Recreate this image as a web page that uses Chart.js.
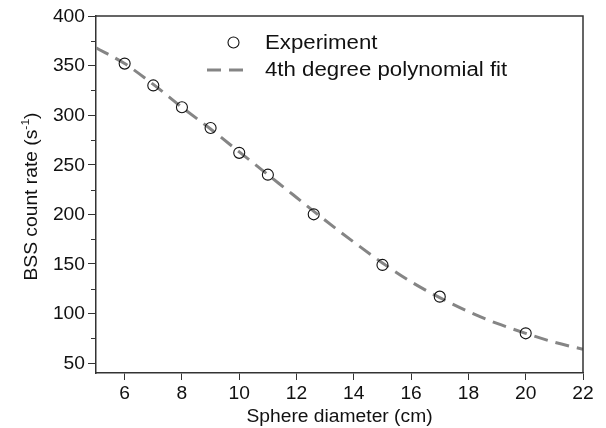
<!DOCTYPE html>
<html>
<head>
<meta charset="utf-8">
<script src="https://cdn.jsdelivr.net/npm/chart.js@4"></script>
<style>
  html, body { margin: 0; padding: 0; background: #fff; }
</style>
</head>
<body>
<canvas id="chart" width="606" height="428"></canvas>
<script>
// Measured points
const expX = [6, 7, 8, 9, 10, 11, 12.6, 15, 17, 20];
const expY = [352, 330, 308, 287, 262, 240, 200, 149, 117, 80];

// Fit curve
const fitX = [5, 6, 7, 8, 9, 10, 11, 12, 13, 14, 15, 16, 17, 18, 19, 20, 21, 22];
const fitY = [368, 352, 331, 308, 286, 263, 240, 217, 194, 172, 151, 132, 116, 102, 90, 80, 71, 64];

const xTicks = [6, 8, 10, 12, 14, 16, 18, 20, 22];
const yTicks = [50, 100, 150, 200, 250, 300, 350, 400];
const yMinorTicks = [75, 125, 175, 225, 275, 325, 375];

const seriesLabels = ['Experiment', '4th degree polynomial fit'];
const xTitle = 'Sphere diameter (cm)';

const FONT = "'Liberation Sans', Arial, sans-serif";
const AXIS = '#333333';
const TEXT = '#111111';
const FIT_COLOR = '#858585';
const SX = 1.1; // text in the original is a bit wide

function wideText(ctx, text, x, y, size, align, sx) {
  ctx.save();
  ctx.font = size + 'px ' + FONT;
  ctx.translate(x, y);
  ctx.scale(sx, 1);
  ctx.textAlign = align;
  ctx.fillText(text, 0, 0);
  ctx.restore();
}

const framePlugin = {
  id: 'frame',
  afterDraw(chart) {
    const ctx = chart.ctx;
    const a = chart.chartArea;
    const xs = chart.scales.x;
    const ys = chart.scales.y;
    ctx.save();
    ctx.strokeStyle = AXIS;
    ctx.lineWidth = 1.5;
    ctx.beginPath();
    ctx.moveTo(a.left, a.top);
    ctx.lineTo(a.right, a.top);
    ctx.lineTo(a.right, a.bottom);
    ctx.stroke();

    // minor y ticks
    ctx.lineWidth = 1;
    yMinorTicks.forEach(v => {
      const py = Math.round(ys.getPixelForValue(v)) + 0.5;
      ctx.beginPath();
      ctx.moveTo(a.left - 5, py);
      ctx.lineTo(a.left, py);
      ctx.stroke();
    });

    // tick labels
    ctx.fillStyle = TEXT;
    ctx.textBaseline = 'middle';
    ys.ticks.forEach(t => {
      wideText(ctx, String(t.value), a.left - 11, ys.getPixelForValue(t.value) + 1, 17.5, 'right', SX);
    });
    xs.ticks.forEach(t => {
      wideText(ctx, String(t.value), xs.getPixelForValue(t.value), a.bottom + 21, 17.5, 'center', SX);
    });

    // axis titles
    wideText(ctx, xTitle, (a.left + a.right) / 2, 417, 17.5, 'center', SX);

    ctx.save();
    ctx.translate(31, (a.top + a.bottom) / 2 + 2);
    ctx.rotate(-Math.PI / 2);
    ctx.scale(SX, 1);
    ctx.textBaseline = 'alphabetic';
    const main = 'BSS count rate (s';
    const sup = '-1';
    const close = ')';
    ctx.font = '17.5px ' + FONT;
    const w1 = ctx.measureText(main).width;
    const w3 = ctx.measureText(close).width;
    ctx.font = '11px ' + FONT;
    const w2 = ctx.measureText(sup).width;
    const x0 = -(w1 + w2 + w3) / 2;
    ctx.font = '17.5px ' + FONT;
    ctx.fillText(main, x0, 6);
    ctx.font = '11px ' + FONT;
    ctx.fillText(sup, x0 + w1, -2);
    ctx.font = '17.5px ' + FONT;
    ctx.fillText(close, x0 + w1 + w2, 6);
    ctx.restore();

    // legend
    ctx.strokeStyle = TEXT;
    ctx.lineWidth = 1.1;
    ctx.beginPath();
    ctx.arc(233.5, 42.5, 5.5, 0, Math.PI * 2);
    ctx.stroke();
    wideText(ctx, seriesLabels[0], 265, 44, 19.5, 'left', 1.14);

    ctx.strokeStyle = FIT_COLOR;
    ctx.lineWidth = 3;
    ctx.setLineDash([14, 8]);
    ctx.beginPath();
    ctx.moveTo(207, 70);
    ctx.lineTo(247, 70);
    ctx.stroke();
    ctx.setLineDash([]);
    wideText(ctx, seriesLabels[1], 265, 71, 19.5, 'left', 1.14);
    ctx.restore();
  }
};

new Chart(document.getElementById('chart'), {
  type: 'scatter',
  data: {
    datasets: [
      {
        label: seriesLabels[0],
        data: expX.map((x, i) => ({ x: x, y: expY[i] })),
        pointStyle: 'circle',
        pointRadius: 5.5,
        pointBorderWidth: 1.1,
        pointBorderColor: TEXT,
        pointBackgroundColor: 'rgba(255,255,255,0)',
        showLine: false
      },
      {
        label: seriesLabels[1],
        data: fitX.map((x, i) => ({ x: x, y: fitY[i] })),
        showLine: true,
        pointRadius: 0,
        borderColor: FIT_COLOR,
        borderWidth: 3,
        borderDash: [14, 8],
        cubicInterpolationMode: 'monotone',
        fill: false
      }
    ]
  },
  options: {
    responsive: false,
    animation: false,
    devicePixelRatio: 1,
    layout: { padding: { top: 16, right: 23, left: 0, bottom: 0 } },
    plugins: {
      legend: { display: false },
      tooltip: { enabled: false }
    },
    scales: {
      x: {
        type: 'linear',
        min: 5,
        max: 22,
        afterBuildTicks: s => { s.ticks = xTicks.map(v => ({ value: v })); },
        afterFit: s => { s.height = 55; },
        border: { color: AXIS, width: 1.5 },
        grid: { drawOnChartArea: false, tickLength: 7, color: AXIS, tickColor: AXIS },
        ticks: { display: false }
      },
      y: {
        min: 40,
        max: 400,
        afterBuildTicks: s => { s.ticks = yTicks.map(v => ({ value: v })); },
        afterFit: s => { s.width = 96; },
        border: { color: AXIS, width: 1.5 },
        grid: { drawOnChartArea: false, tickLength: 8, color: AXIS, tickColor: AXIS },
        ticks: { display: false }
      }
    }
  },
  plugins: [framePlugin]
});
</script>
</body>
</html>
